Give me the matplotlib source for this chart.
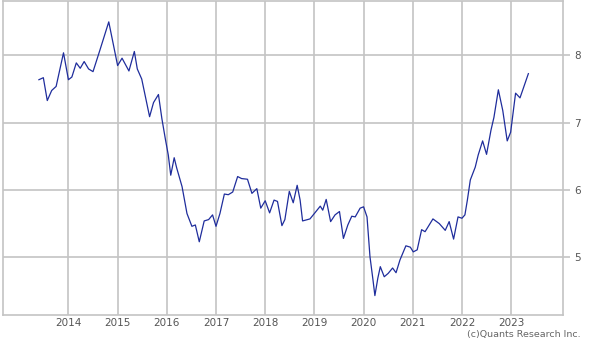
import numpy as np
import matplotlib
matplotlib.use("Agg")
import matplotlib.pyplot as plt

# --- Données (année décimale, valeur) ---
t = [2013.40, 2013.49, 2013.57, 2013.66, 2013.75, 2013.90, 2014.00, 2014.07, 2014.16, 2014.24,
     2014.32, 2014.41, 2014.50, 2014.64, 2014.82, 2015.00, 2015.09, 2015.23, 2015.34, 2015.40,
     2015.49, 2015.65, 2015.73, 2015.83, 2015.90, 2015.97, 2016.03, 2016.08, 2016.11, 2016.15,
     2016.20, 2016.31, 2016.41, 2016.51, 2016.58, 2016.66, 2016.76, 2016.85, 2016.93, 2017.00,
     2017.08, 2017.17, 2017.25, 2017.34, 2017.44, 2017.52, 2017.64, 2017.73, 2017.83, 2017.91,
     2018.00, 2018.09, 2018.18, 2018.25, 2018.34, 2018.40, 2018.49, 2018.57, 2018.65, 2018.71,
     2018.76, 2018.91, 2019.01, 2019.12, 2019.17, 2019.24, 2019.33, 2019.42, 2019.51, 2019.59,
     2019.68, 2019.76, 2019.83, 2019.93, 2020.00, 2020.07, 2020.13, 2020.19, 2020.23, 2020.29,
     2020.34, 2020.42, 2020.50, 2020.59, 2020.66, 2020.74, 2020.86, 2020.95, 2021.01, 2021.09,
     2021.18, 2021.25, 2021.41, 2021.54, 2021.66, 2021.74, 2021.83, 2021.92, 2022.00, 2022.06,
     2022.11, 2022.17, 2022.27, 2022.33, 2022.42, 2022.50, 2022.59, 2022.65, 2022.74, 2022.83,
     2022.92, 2022.99, 2023.09, 2023.18, 2023.35]
val = [7.64, 7.67, 7.33, 7.48, 7.54, 8.04, 7.64, 7.68, 7.89, 7.81,
       7.91, 7.80, 7.76, 8.08, 8.50, 7.85, 7.96, 7.77, 8.06, 7.80,
       7.65, 7.09, 7.30, 7.42, 7.06, 6.76, 6.52, 6.22, 6.33, 6.48,
       6.33, 6.05, 5.65, 5.46, 5.48, 5.23, 5.54, 5.56, 5.63, 5.46,
       5.65, 5.94, 5.93, 5.97, 6.20, 6.17, 6.16, 5.95, 6.02, 5.73,
       5.84, 5.66, 5.85, 5.83, 5.47, 5.56, 5.98, 5.81, 6.07, 5.85,
       5.54, 5.57, 5.66, 5.76, 5.70, 5.86, 5.53, 5.63, 5.68, 5.28,
       5.48, 5.61, 5.60, 5.73, 5.75, 5.60, 5.01, 4.67, 4.43, 4.69,
       4.86, 4.71, 4.76, 4.84, 4.77, 4.96, 5.17, 5.15, 5.08, 5.11,
       5.41, 5.38, 5.57, 5.50, 5.40, 5.53, 5.27, 5.60, 5.58, 5.63,
       5.85, 6.15, 6.34, 6.52, 6.73, 6.53, 6.89, 7.08, 7.49, 7.18,
       6.73, 6.86, 7.44, 7.37, 7.73]

years = list(range(2014, 2024))
yticks = [5, 6, 7, 8]

gris = "#c4c4c4"
texte = "#555555"

fig = plt.figure(figsize=(6.0, 3.41), dpi=100)
ax = fig.add_axes([0.005, 0.076, 0.933, 0.921])

ax.plot(t, val, color="#1f2d9c", linewidth=0.9)

ax.set_xlim(2012.67, 2024.05)
ax.set_ylim(4.14, 8.81)
ax.set_xticks(years)
ax.set_xticklabels([str(y) for y in years])
ax.set_yticks(yticks)
ax.yaxis.tick_right()

ax.grid(True, color=gris, linewidth=1.2)
for s in ax.spines.values():
    s.set_color(gris)
    s.set_linewidth(1.2)

ax.tick_params(axis="x", length=0, pad=2, labelsize=7.5, labelcolor=texte)
ax.tick_params(axis="y", length=5, width=1.2, color=gris, pad=3,
               labelsize=7.5, labelcolor=texte)

# mention de copyright, coupée en bas comme sur l'original
fig.text(0.967, 0.032, "(c)Quants Research Inc.", ha="right", va="top",
         fontsize=6.8, color="#666666")

plt.savefig("out.png", dpi=100)
